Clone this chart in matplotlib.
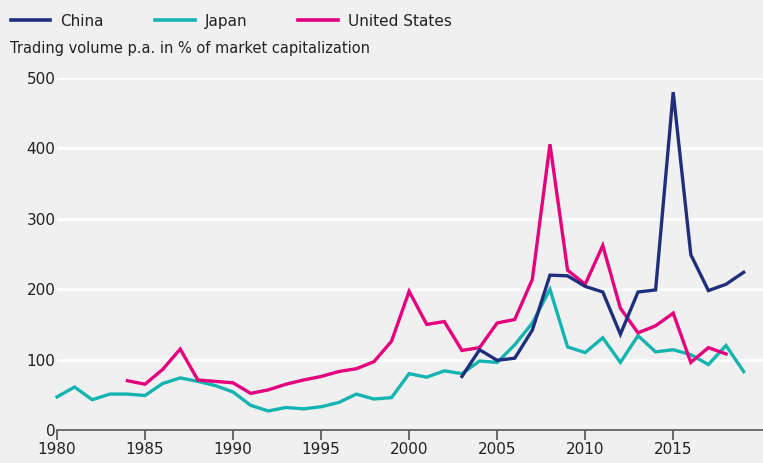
import numpy as np
import matplotlib
matplotlib.use("Agg")
import matplotlib.pyplot as plt
from matplotlib.lines import Line2D

# Data (trading volume p.a. in % of market cap)
years_japan = list(range(1980, 2020))
japan = [47, 61, 43, 51, 51, 49, 66, 74, 69, 63,
         54, 35, 27, 32, 30, 33, 39, 51, 44, 46,
         80, 75, 84, 80, 98, 96, 121, 152, 200, 118,
         110, 131, 96, 134, 111, 114, 107, 93, 120, 83]

years_us = list(range(1984, 2019))
us = [70, 65, 86, 115, 71, 69, 67, 52, 57, 65,
      71, 76, 83, 87, 97, 126, 197, 150, 154, 113,
      117, 152, 157, 214, 406, 227, 207, 262, 173, 138,
      148, 166, 96, 117, 108]

years_china = list(range(2003, 2020))
china = [76, 114, 99, 102, 142, 220, 219, 204, 196, 136,
         196, 199, 480, 249, 198, 207, 224]

series_names = ["China", "Japan", "United States"]
colors = ["#1f2f7d", "#14b4b0", "#e5007e"]
bg = "#f0f0f0"

fig = plt.figure(figsize=(7.63, 4.63), dpi=100, facecolor=bg)
ax = fig.add_axes([0.0747, 0.0713, 0.9253, 0.7602], facecolor=bg)

lw = 2.4
ax.plot(years_japan, japan, color=colors[1], lw=lw, solid_joinstyle="miter", zorder=3)
ax.plot(years_us, us, color=colors[2], lw=lw, solid_joinstyle="miter", zorder=4)
ax.plot(years_china, china, color=colors[0], lw=lw, solid_joinstyle="miter", zorder=5)

ax.set_xlim(1980, 2020.1)
ax.set_ylim(0, 500)
ax.set_xticks(range(1980, 2020, 5))
ax.set_yticks(range(0, 501, 100))
ax.yaxis.grid(True, color="white", lw=1.8)
ax.set_axisbelow(True)
for s in ["top", "right", "left"]:
    ax.spines[s].set_visible(False)
ax.spines["bottom"].set_color("#555555")
ax.spines["bottom"].set_linewidth(1.2)
ax.spines["bottom"].set_zorder(6)
ax.tick_params(axis="x", length=7, width=1.2, color="#555555",
               labelsize=11, labelcolor="#222222", pad=2)
ax.tick_params(axis="y", length=0, labelsize=11, labelcolor="#222222", pad=1)
for line in ax.get_lines():
    line.set_clip_on(False)

# Legend + subtitle at the top
handles = [Line2D([], [], color=c, lw=2.6) for c in colors]
leg = fig.legend(handles, series_names, loc="upper left",
                 bbox_to_anchor=(-0.004, 1.0), ncol=3, frameon=False,
                 fontsize=11, handlelength=2.6, handletextpad=0.65,
                 columnspacing=3.35)
for t in leg.get_texts():
    t.set_color("#222222")
fig.text(0.013, 0.895, "Trading volume p.a. in % of market capitalization",
         fontsize=10.5, color="#222222", va="center", ha="left")

fig.savefig("out.png", dpi=100, facecolor=bg)
